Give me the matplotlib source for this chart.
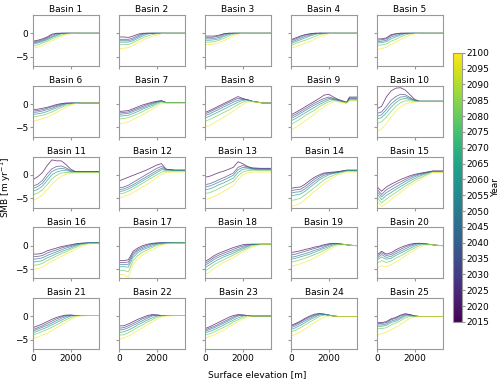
import numpy as np
import matplotlib.pyplot as plt
from matplotlib import cm
from matplotlib.colors import Normalize

# surface elevation bins [m]
elev = [0, 250, 500, 750, 1000, 1250, 1500, 1750, 2000, 2250, 2500, 2950, 3100, 3500]
# years shown per basin
years = [2015, 2030, 2045, 2060, 2080, 2100]

# SMB profiles [m/yr], one row per year
b1 = [[-1.7, -1.5, -1.2, -0.8, -0.2, 0, 0, 0, 0, 0, 0, 0, 0, 0],
      [-1.9, -1.7, -1.4, -1.0, -0.4, -0.1, 0, 0, 0, 0, 0, 0, 0, 0],
      [-2.1, -1.9, -1.6, -1.2, -0.7, -0.3, 0, 0, 0, 0, 0, 0, 0, 0],
      [-2.3, -2.1, -1.8, -1.4, -0.9, -0.5, -0.1, 0, 0, 0, 0, 0, 0, 0],
      [-2.7, -2.5, -2.1, -1.7, -1.2, -0.8, -0.4, -0.1, 0, 0, 0, 0, 0, 0],
      [-3.2, -3.0, -2.6, -2.1, -1.6, -1.2, -0.7, -0.3, -0.1, 0, 0, 0, 0, 0]]
b2 = [[-0.8, -0.8, -0.9, -0.6, -0.2, 0, 0, 0, 0, 0, 0, 0, 0, 0],
      [-1.3, -1.3, -1.3, -1.0, -0.5, -0.1, 0, 0, 0, 0, 0, 0, 0, 0],
      [-1.6, -1.6, -1.6, -1.3, -0.8, -0.3, 0, 0, 0, 0, 0, 0, 0, 0],
      [-1.9, -1.9, -1.9, -1.6, -1.1, -0.6, -0.2, 0, 0, 0, 0, 0, 0, 0],
      [-2.5, -2.4, -2.4, -2.0, -1.5, -1.0, -0.6, -0.3, -0.1, 0, 0, 0, 0, 0],
      [-3.4, -3.2, -3.1, -2.6, -2.0, -1.5, -1.1, -0.7, -0.4, -0.1, 0, 0, 0, 0]]
b3 = [[-0.6, -0.6, -0.6, -0.4, -0.1, 0, 0, 0, 0, 0, 0, 0, 0, 0],
      [-0.9, -0.9, -0.8, -0.6, -0.2, 0, 0, 0, 0, 0, 0, 0, 0, 0],
      [-1.2, -1.2, -1.1, -0.9, -0.4, -0.1, 0, 0, 0, 0, 0, 0, 0, 0],
      [-1.5, -1.5, -1.4, -1.2, -0.7, -0.3, 0, 0, 0, 0, 0, 0, 0, 0],
      [-1.9, -1.9, -1.8, -1.5, -1.1, -0.6, -0.2, 0, 0, 0, 0, 0, 0, 0],
      [-2.5, -2.4, -2.3, -2.0, -1.6, -1.1, -0.6, -0.2, 0, 0, 0, 0, 0, 0]]
b4 = [[-1.4, -1.0, -0.6, -0.3, -0.1, 0, 0, 0, 0, 0, 0, 0, 0, 0],
      [-1.6, -1.2, -0.8, -0.4, -0.2, 0, 0, 0, 0, 0, 0, 0, 0, 0],
      [-1.9, -1.5, -1.1, -0.7, -0.4, -0.1, 0, 0, 0, 0, 0, 0, 0, 0],
      [-2.2, -1.8, -1.4, -1.0, -0.6, -0.3, 0, 0, 0, 0, 0, 0, 0, 0],
      [-2.6, -2.2, -1.8, -1.5, -1.1, -0.7, -0.3, -0.1, 0, 0, 0, 0, 0, 0],
      [-3.2, -2.9, -2.5, -2.1, -1.8, -1.3, -0.8, -0.4, -0.1, 0, 0, 0, 0, 0]]
b5 = [[-1.2, -1.2, -1.0, -0.3, -0.1, 0, 0, 0, 0, 0, 0, 0, 0, 0],
      [-1.5, -1.4, -1.2, -0.5, -0.2, 0, 0, 0, 0, 0, 0, 0, 0, 0],
      [-1.8, -1.7, -1.5, -0.8, -0.5, -0.2, 0, 0, 0, 0, 0, 0, 0, 0],
      [-2.1, -2.0, -1.8, -1.2, -0.8, -0.4, -0.1, 0, 0, 0, 0, 0, 0, 0],
      [-2.6, -2.5, -2.3, -1.7, -1.3, -0.8, -0.4, -0.1, 0, 0, 0, 0, 0, 0],
      [-3.5, -3.3, -3.0, -2.4, -1.9, -1.4, -0.9, -0.4, -0.1, 0, 0, 0, 0, 0]]
b6 = [[-1.2, -1.1, -0.9, -0.7, -0.4, -0.1, 0.1, 0.2, 0.2, 0.2, 0.2, 0.2, 0.2, 0.2],
      [-1.5, -1.4, -1.2, -0.9, -0.6, -0.3, 0.0, 0.2, 0.2, 0.2, 0.2, 0.2, 0.2, 0.2],
      [-1.8, -1.7, -1.5, -1.2, -0.9, -0.5, -0.2, 0.1, 0.2, 0.2, 0.2, 0.2, 0.2, 0.2],
      [-2.2, -2.1, -1.9, -1.6, -1.2, -0.8, -0.4, 0.0, 0.2, 0.2, 0.2, 0.2, 0.2, 0.2],
      [-2.8, -2.6, -2.4, -2.1, -1.7, -1.2, -0.7, -0.3, 0.0, 0.2, 0.2, 0.2, 0.2, 0.2],
      [-3.7, -3.4, -3.1, -2.8, -2.3, -1.8, -1.2, -0.7, -0.2, 0.1, 0.2, 0.2, 0.2, 0.2]]
b7 = [[-1.6, -1.5, -1.4, -1.0, -0.6, -0.2, 0.1, 0.4, 0.6, 0.7, 0.3, 0.3, 0.3, 0.3],
      [-1.9, -1.8, -1.7, -1.3, -0.9, -0.5, -0.1, 0.2, 0.5, 0.7, 0.3, 0.3, 0.3, 0.3],
      [-2.2, -2.1, -2.0, -1.6, -1.2, -0.8, -0.4, 0.0, 0.4, 0.7, 0.3, 0.3, 0.3, 0.3],
      [-2.6, -2.5, -2.4, -2.0, -1.6, -1.1, -0.7, -0.3, 0.2, 0.6, 0.3, 0.3, 0.3, 0.3],
      [-3.2, -3.1, -2.9, -2.5, -2.1, -1.6, -1.1, -0.6, -0.1, 0.4, 0.3, 0.3, 0.3, 0.3],
      [-4.3, -4.1, -3.8, -3.3, -2.8, -2.3, -1.7, -1.1, -0.5, 0.1, 0.2, 0.2, 0.2, 0.2]]
b8 = [[-1.8, -1.4, -0.9, -0.4, 0.1, 0.6, 1.1, 1.6, 1.2, 0.9, 0.6, 0.3, 0.2, 0.2],
      [-2.1, -1.7, -1.2, -0.7, -0.2, 0.3, 0.8, 1.2, 1.1, 0.9, 0.6, 0.3, 0.2, 0.2],
      [-2.5, -2.1, -1.6, -1.1, -0.6, -0.1, 0.4, 0.8, 1.0, 0.9, 0.6, 0.3, 0.2, 0.2],
      [-3.0, -2.6, -2.1, -1.6, -1.1, -0.6, -0.1, 0.4, 0.8, 0.9, 0.6, 0.3, 0.2, 0.2],
      [-3.7, -3.3, -2.8, -2.3, -1.8, -1.3, -0.7, -0.1, 0.4, 0.7, 0.5, 0.3, 0.2, 0.2],
      [-5.0, -4.6, -4.0, -3.4, -2.8, -2.2, -1.5, -0.8, -0.1, 0.4, 0.5, 0.3, 0.2, 0.2]]
b9 = [[-2.3, -1.8, -1.2, -0.6, 0.0, 0.6, 1.2, 1.9, 2.1, 1.5, 1.0, 0.4, 1.5, 1.5],
      [-2.7, -2.2, -1.6, -1.0, -0.4, 0.2, 0.7, 1.2, 1.5, 1.2, 0.9, 0.3, 1.3, 1.3],
      [-3.1, -2.6, -2.0, -1.4, -0.8, -0.2, 0.3, 0.8, 1.2, 1.1, 0.8, 0.3, 1.2, 1.2],
      [-3.6, -3.1, -2.5, -1.9, -1.3, -0.7, -0.1, 0.4, 0.9, 1.0, 0.7, 0.3, 1.0, 1.0],
      [-4.3, -3.8, -3.2, -2.5, -1.9, -1.3, -0.6, 0.0, 0.5, 0.8, 0.6, 0.2, 0.8, 0.8],
      [-5.6, -5.0, -4.3, -3.6, -2.9, -2.1, -1.3, -0.6, 0.0, 0.5, 0.5, 0.2, 0.7, 0.7]]
b10 = [[-1.0, -0.5, 1.5, 2.8, 3.4, 3.5, 3.0, 2.0, 1.0, 0.6, 0.6, 0.6, 0.6, 0.6],
       [-2.0, -1.7, -0.5, 0.8, 1.6, 2.1, 2.0, 1.4, 0.8, 0.6, 0.6, 0.6, 0.6, 0.6],
       [-2.6, -2.3, -1.2, 0.0, 0.9, 1.5, 1.6, 1.2, 0.8, 0.6, 0.6, 0.6, 0.6, 0.6],
       [-3.2, -2.9, -1.9, -0.7, 0.3, 1.0, 1.2, 1.0, 0.7, 0.6, 0.6, 0.6, 0.6, 0.6],
       [-4.2, -3.8, -2.8, -1.6, -0.5, 0.3, 0.7, 0.7, 0.6, 0.6, 0.6, 0.6, 0.6, 0.6],
       [-5.8, -5.3, -4.2, -2.8, -1.6, -0.6, 0.0, 0.3, 0.4, 0.5, 0.5, 0.5, 0.5, 0.5]]
b11 = [[-1.0, -0.4, 0.5, 2.0, 3.2, 3.0, 3.0, 2.2, 1.2, 0.7, 0.7, 0.7, 0.7, 0.7],
       [-2.4, -2.0, -1.2, 0.2, 1.3, 1.8, 1.9, 1.5, 0.9, 0.7, 0.7, 0.7, 0.7, 0.7],
       [-2.9, -2.5, -1.8, -0.5, 0.7, 1.2, 1.4, 1.2, 0.8, 0.7, 0.7, 0.7, 0.7, 0.7],
       [-3.5, -3.1, -2.4, -1.2, 0.0, 0.6, 0.9, 0.9, 0.7, 0.6, 0.6, 0.6, 0.6, 0.6],
       [-4.3, -3.9, -3.2, -2.1, -0.9, -0.1, 0.4, 0.5, 0.5, 0.5, 0.5, 0.5, 0.5, 0.5],
       [-5.5, -5.0, -4.3, -3.2, -2.0, -1.0, -0.3, 0.1, 0.3, 0.4, 0.4, 0.4, 0.4, 0.4]]
b12 = [[-1.3, -0.9, -0.5, -0.1, 0.3, 0.7, 1.1, 1.6, 2.1, 2.4, 1.2, 1.0, 1.0, 1.0],
       [-2.8, -2.6, -2.2, -1.6, -1.0, -0.4, 0.2, 0.8, 1.4, 1.8, 1.2, 1.0, 1.0, 1.0],
       [-3.2, -3.0, -2.6, -2.1, -1.5, -0.9, -0.3, 0.3, 0.9, 1.4, 1.1, 1.0, 1.0, 1.0],
       [-3.6, -3.4, -3.0, -2.5, -1.9, -1.3, -0.7, -0.1, 0.5, 1.1, 1.0, 0.9, 0.9, 0.9],
       [-4.1, -3.9, -3.5, -3.0, -2.4, -1.8, -1.2, -0.6, 0.0, 0.6, 0.8, 0.8, 0.8, 0.8],
       [-4.9, -4.7, -4.3, -3.8, -3.2, -2.6, -2.0, -1.3, -0.6, 0.1, 0.5, 0.6, 0.6, 0.6]]
b13 = [[-0.5, -0.3, 0.1, 0.5, 0.8, 1.2, 1.6, 2.8, 2.4, 1.8, 1.5, 1.4, 1.4, 1.4],
       [-2.1, -1.9, -1.5, -1.0, -0.6, -0.1, 0.4, 1.6, 2.0, 1.7, 1.4, 1.3, 1.3, 1.3],
       [-2.6, -2.4, -2.0, -1.5, -1.1, -0.6, -0.1, 1.1, 1.6, 1.5, 1.3, 1.2, 1.2, 1.2],
       [-3.2, -3.0, -2.6, -2.1, -1.7, -1.2, -0.7, 0.5, 1.2, 1.3, 1.2, 1.1, 1.1, 1.1],
       [-4.0, -3.8, -3.4, -2.9, -2.4, -1.9, -1.4, -0.2, 0.6, 0.9, 1.0, 0.9, 0.9, 0.9],
       [-5.3, -5.0, -4.6, -4.1, -3.5, -2.9, -2.3, -1.0, 0.0, 0.4, 0.6, 0.6, 0.6, 0.6]]
b14 = [[-2.9, -2.7, -2.6, -2.0, -1.2, -0.5, 0.0, 0.4, 0.5, 0.6, 0.7, 1.0, 1.0, 1.0],
       [-3.4, -3.2, -3.1, -2.5, -1.7, -0.9, -0.3, 0.2, 0.4, 0.5, 0.6, 1.0, 1.0, 1.0],
       [-3.9, -3.7, -3.6, -3.0, -2.2, -1.4, -0.7, -0.1, 0.2, 0.4, 0.6, 0.9, 0.9, 0.9],
       [-4.5, -4.3, -4.1, -3.5, -2.7, -1.9, -1.1, -0.5, 0.0, 0.3, 0.5, 0.9, 0.9, 0.9],
       [-5.5, -5.3, -5.0, -4.3, -3.5, -2.7, -1.9, -1.1, -0.5, -0.1, 0.3, 0.8, 0.8, 0.8],
       [-6.8, -6.5, -6.1, -5.3, -4.4, -3.5, -2.7, -1.9, -1.1, -0.5, 0.0, 0.6, 0.6, 0.6]]
b15 = [[-2.5, -3.5, -2.6, -2.0, -1.5, -1.0, -0.6, -0.2, 0.1, 0.3, 0.5, 0.8, 0.8, 0.8],
       [-3.0, -4.2, -3.2, -2.6, -2.0, -1.5, -1.0, -0.5, -0.1, 0.2, 0.4, 0.8, 0.8, 0.8],
       [-3.5, -4.7, -3.8, -3.2, -2.6, -2.0, -1.4, -0.9, -0.4, 0.0, 0.3, 0.8, 0.8, 0.8],
       [-4.0, -5.3, -4.4, -3.8, -3.1, -2.5, -1.9, -1.3, -0.8, -0.3, 0.1, 0.7, 0.7, 0.7],
       [-4.7, -6.0, -5.2, -4.5, -3.8, -3.1, -2.4, -1.8, -1.2, -0.7, -0.2, 0.6, 0.6, 0.6],
       [-5.5, -6.8, -6.1, -5.3, -4.5, -3.8, -3.0, -2.3, -1.7, -1.1, -0.5, 0.5, 0.5, 0.5]]
b16 = [[-1.8, -1.8, -1.6, -1.1, -0.8, -0.5, -0.2, 0.0, 0.2, 0.4, 0.5, 0.6, 0.6, 0.6],
       [-2.3, -2.3, -2.1, -1.6, -1.2, -0.9, -0.5, -0.2, 0.0, 0.3, 0.5, 0.6, 0.6, 0.6],
       [-2.9, -2.8, -2.6, -2.1, -1.7, -1.3, -0.9, -0.5, -0.2, 0.1, 0.4, 0.6, 0.6, 0.6],
       [-3.5, -3.4, -3.2, -2.6, -2.2, -1.7, -1.3, -0.9, -0.5, -0.1, 0.3, 0.6, 0.6, 0.6],
       [-4.2, -4.1, -3.8, -3.2, -2.7, -2.2, -1.7, -1.3, -0.8, -0.4, 0.1, 0.5, 0.5, 0.5],
       [-5.1, -4.9, -4.6, -3.9, -3.3, -2.8, -2.3, -1.8, -1.3, -0.8, -0.3, 0.4, 0.4, 0.4]]
b17 = [[-3.2, -3.2, -3.0, -1.2, -0.5, 0.0, 0.3, 0.5, 0.6, 0.6, 0.6, 0.6, 0.6, 0.6],
       [-3.6, -3.6, -3.5, -1.6, -0.8, -0.3, 0.1, 0.4, 0.5, 0.6, 0.6, 0.6, 0.6, 0.6],
       [-4.0, -4.0, -4.0, -2.0, -1.1, -0.6, -0.2, 0.2, 0.4, 0.6, 0.6, 0.6, 0.6, 0.6],
       [-4.5, -4.5, -4.6, -2.5, -1.5, -0.9, -0.5, -0.1, 0.3, 0.5, 0.6, 0.6, 0.6, 0.6],
       [-5.3, -5.3, -5.6, -3.2, -2.1, -1.4, -0.9, -0.4, 0.0, 0.3, 0.5, 0.6, 0.6, 0.6],
       [-6.2, -6.2, -6.8, -4.0, -2.8, -2.0, -1.4, -0.9, -0.4, 0.0, 0.4, 0.5, 0.5, 0.5]]
b18 = [[-3.4, -2.8, -2.1, -1.6, -1.2, -0.8, -0.4, -0.1, 0.2, 0.3, 0.3, 0.3, 0.3, 0.3],
       [-3.8, -3.2, -2.5, -2.0, -1.6, -1.2, -0.8, -0.4, -0.1, 0.2, 0.3, 0.3, 0.3, 0.3],
       [-4.2, -3.6, -2.9, -2.4, -2.0, -1.6, -1.2, -0.8, -0.4, 0.0, 0.3, 0.3, 0.3, 0.3],
       [-4.7, -4.1, -3.4, -2.9, -2.4, -2.0, -1.6, -1.1, -0.7, -0.2, 0.2, 0.3, 0.3, 0.3],
       [-5.4, -4.8, -4.0, -3.5, -3.0, -2.5, -2.0, -1.5, -1.0, -0.5, 0.0, 0.3, 0.3, 0.3],
       [-6.2, -5.6, -4.8, -4.2, -3.6, -3.1, -2.6, -2.0, -1.4, -0.8, -0.3, 0.2, 0.2, 0.2]]
b19 = [[-1.5, -1.3, -1.1, -0.8, -0.6, -0.3, -0.1, 0.2, 0.4, 0.5, 0.4, 0.2, 0.1, 0.0],
       [-2.0, -1.8, -1.5, -1.2, -0.9, -0.6, -0.3, 0.0, 0.3, 0.5, 0.4, 0.2, 0.1, 0.0],
       [-2.5, -2.3, -2.0, -1.7, -1.4, -1.0, -0.7, -0.3, 0.1, 0.4, 0.4, 0.2, 0.1, 0.0],
       [-2.9, -2.7, -2.4, -2.1, -1.8, -1.4, -1.0, -0.6, -0.2, 0.2, 0.4, 0.2, 0.1, 0.0],
       [-3.5, -3.3, -3.0, -2.7, -2.3, -1.9, -1.5, -1.0, -0.5, 0.0, 0.3, 0.2, 0.1, 0.0],
       [-4.4, -4.2, -3.9, -3.5, -3.1, -2.6, -2.1, -1.5, -0.9, -0.4, 0.1, 0.2, 0.1, 0.0]]
b20 = [[-2.0, -1.2, -1.8, -1.5, -0.9, -0.4, 0.0, 0.3, 0.5, 0.5, 0.4, 0.2, 0.1, 0.0],
       [-2.3, -1.5, -2.1, -1.9, -1.3, -0.8, -0.3, 0.1, 0.4, 0.5, 0.4, 0.2, 0.1, 0.0],
       [-2.7, -1.9, -2.5, -2.3, -1.7, -1.2, -0.7, -0.2, 0.2, 0.5, 0.4, 0.2, 0.1, 0.0],
       [-3.1, -2.4, -2.9, -2.7, -2.1, -1.6, -1.1, -0.6, -0.1, 0.3, 0.4, 0.2, 0.1, 0.0],
       [-3.8, -3.2, -3.6, -3.3, -2.7, -2.2, -1.6, -1.0, -0.5, 0.0, 0.3, 0.2, 0.1, 0.0],
       [-4.8, -4.3, -4.5, -4.1, -3.5, -2.9, -2.2, -1.6, -1.0, -0.4, 0.1, 0.2, 0.1, 0.0]]
b21 = [[-2.4, -2.0, -1.6, -1.1, -0.6, -0.2, 0.1, 0.3, 0.3, 0.2, 0.2, 0.2, 0.2, 0.2],
       [-2.8, -2.4, -2.0, -1.5, -1.0, -0.5, -0.1, 0.2, 0.3, 0.2, 0.2, 0.2, 0.2, 0.2],
       [-3.1, -2.7, -2.3, -1.9, -1.4, -0.9, -0.4, 0.0, 0.2, 0.2, 0.2, 0.2, 0.2, 0.2],
       [-3.5, -3.1, -2.7, -2.3, -1.8, -1.3, -0.8, -0.3, 0.1, 0.2, 0.2, 0.2, 0.2, 0.2],
       [-4.0, -3.6, -3.2, -2.8, -2.3, -1.8, -1.2, -0.7, -0.2, 0.1, 0.2, 0.2, 0.2, 0.2],
       [-4.8, -4.4, -4.0, -3.6, -3.0, -2.4, -1.8, -1.2, -0.6, -0.1, 0.1, 0.2, 0.2, 0.2]]
b22 = [[-2.0, -2.0, -1.6, -1.1, -0.6, -0.2, 0.2, 0.4, 0.3, 0.2, 0.2, 0.2, 0.2, 0.2],
       [-2.5, -2.4, -2.0, -1.5, -1.0, -0.5, -0.1, 0.3, 0.3, 0.2, 0.2, 0.2, 0.2, 0.2],
       [-2.9, -2.8, -2.4, -1.9, -1.4, -0.9, -0.4, 0.1, 0.3, 0.2, 0.2, 0.2, 0.2, 0.2],
       [-3.4, -3.3, -2.9, -2.4, -1.8, -1.3, -0.8, -0.3, 0.1, 0.2, 0.2, 0.2, 0.2, 0.2],
       [-4.0, -3.9, -3.5, -2.9, -2.3, -1.8, -1.2, -0.7, -0.2, 0.1, 0.2, 0.2, 0.2, 0.2],
       [-4.8, -4.6, -4.2, -3.6, -3.0, -2.4, -1.8, -1.2, -0.6, -0.1, 0.1, 0.2, 0.2, 0.2]]
b23 = [[-2.6, -2.2, -1.7, -1.2, -0.7, -0.2, 0.2, 0.4, 0.3, 0.2, 0.1, 0.1, 0.1, 0.1],
       [-2.9, -2.5, -2.1, -1.6, -1.1, -0.6, -0.1, 0.3, 0.3, 0.2, 0.1, 0.1, 0.1, 0.1],
       [-3.2, -2.8, -2.4, -1.9, -1.4, -0.9, -0.4, 0.1, 0.3, 0.2, 0.1, 0.1, 0.1, 0.1],
       [-3.5, -3.2, -2.8, -2.3, -1.8, -1.3, -0.8, -0.3, 0.1, 0.2, 0.1, 0.1, 0.1, 0.1],
       [-4.0, -3.7, -3.3, -2.8, -2.3, -1.8, -1.2, -0.7, -0.2, 0.1, 0.1, 0.1, 0.1, 0.1],
       [-4.6, -4.3, -3.9, -3.4, -2.9, -2.3, -1.7, -1.1, -0.5, -0.1, 0.1, 0.1, 0.1, 0.1]]
b24 = [[-1.9, -1.5, -1.0, -0.4, 0.1, 0.5, 0.6, 0.5, 0.3, 0.1, 0.0, 0.0, 0.0, 0.0],
       [-2.1, -1.7, -1.2, -0.6, -0.1, 0.3, 0.6, 0.5, 0.3, 0.1, 0.0, 0.0, 0.0, 0.0],
       [-2.4, -2.0, -1.5, -0.9, -0.4, 0.1, 0.5, 0.5, 0.3, 0.1, 0.0, 0.0, 0.0, 0.0],
       [-2.8, -2.4, -1.9, -1.3, -0.7, -0.2, 0.3, 0.4, 0.3, 0.1, 0.0, 0.0, 0.0, 0.0],
       [-3.3, -2.9, -2.4, -1.8, -1.2, -0.6, 0.0, 0.3, 0.3, 0.1, 0.0, 0.0, 0.0, 0.0],
       [-4.2, -3.8, -3.3, -2.7, -2.0, -1.3, -0.7, -0.2, 0.1, 0.1, 0.0, 0.0, 0.0, 0.0]]
b25 = [[-1.3, -1.3, -1.1, -0.5, -0.2, 0.3, 0.6, 0.4, 0.1, 0.0, 0.0, 0.0, 0.0, 0.0],
       [-1.5, -1.5, -1.3, -0.7, -0.4, 0.1, 0.5, 0.4, 0.1, 0.0, 0.0, 0.0, 0.0, 0.0],
       [-1.8, -1.8, -1.6, -1.0, -0.7, -0.2, 0.3, 0.3, 0.1, 0.0, 0.0, 0.0, 0.0, 0.0],
       [-2.1, -2.1, -1.9, -1.3, -1.0, -0.5, 0.1, 0.2, 0.1, 0.0, 0.0, 0.0, 0.0, 0.0],
       [-2.6, -2.6, -2.4, -1.8, -1.4, -0.9, -0.3, 0.0, 0.0, 0.0, 0.0, 0.0, 0.0, 0.0],
       [-3.9, -3.7, -3.4, -2.8, -2.3, -1.7, -1.0, -0.4, -0.1, 0.0, 0.0, 0.0, 0.0, 0.0]]

basins = [b1, b2, b3, b4, b5, b6, b7, b8, b9, b10, b11, b12, b13,
          b14, b15, b16, b17, b18, b19, b20, b21, b22, b23, b24, b25]

fs = 6.5
plt.rcParams['font.size'] = fs

fig, axes = plt.subplots(5, 5, figsize=(5.0, 3.85), dpi=100, sharex=True, sharey=True)
fig.subplots_adjust(left=0.066, right=0.886, top=0.961, bottom=0.093,
                    wspace=0.3, hspace=0.39)

norm = Normalize(vmin=2015, vmax=2100)
cmap = plt.get_cmap('viridis')

for i, ax in enumerate(axes.flat):
    prof = basins[i]
    for yr, smb in zip(years, prof):
        ax.plot(elev, smb, color=cmap(norm(yr)), lw=0.6, alpha=0.7)
    ax.set_title(f'Basin {i + 1}', fontsize=fs, pad=2)
    for s in ax.spines.values():
        s.set_edgecolor('0.6')
    ax.tick_params(color='0.6', length=2, pad=1.5, labelsize=fs)

axes[0, 0].set_xlim(0, 3500)
axes[0, 0].set_ylim(-7, 3.9)
axes[0, 0].set_xticks([0, 2000])
axes[0, 0].set_yticks([0, -5])

cax = fig.add_axes([0.905, 0.164, 0.018, 0.699])
sm = cm.ScalarMappable(norm=norm, cmap=cmap)
cb = fig.colorbar(sm, cax=cax, ticks=np.arange(2015, 2101, 5))
cb.outline.set_edgecolor('0.6')
cb.ax.tick_params(labelsize=fs, length=2, pad=1.5, color='0.6')
cb.set_label('Year', fontsize=fs, labelpad=1)

fig.text(0.012, 0.513, 'SMB [m yr$^{-1}$]', rotation=90, ha='center', va='center', fontsize=fs)
fig.text(0.514, 0.026, 'Surface elevation [m]', ha='center', va='center', fontsize=fs)

fig.savefig('out.png', dpi=100)
